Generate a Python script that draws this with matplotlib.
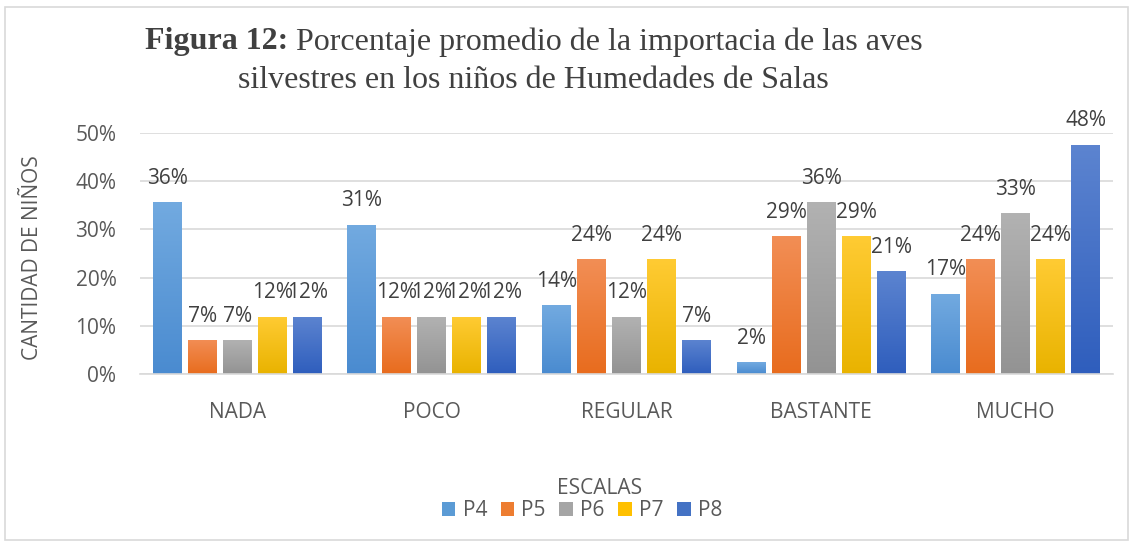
import numpy as np
import matplotlib
matplotlib.use("Agg")
import matplotlib.pyplot as plt
from matplotlib.colors import LinearSegmentedColormap
from matplotlib.patches import Rectangle

categories = ["NADA", "POCO", "REGULAR", "BASTANTE", "MUCHO"]
series_names = ["P4", "P5", "P6", "P7", "P8"]
P4 = [0.357, 0.310, 0.143, 0.024, 0.167]
P5 = [0.071, 0.119, 0.238, 0.286, 0.238]
P6 = [0.071, 0.119, 0.119, 0.357, 0.333]
P7 = [0.119, 0.119, 0.238, 0.286, 0.238]
P8 = [0.119, 0.119, 0.071, 0.214, 0.476]
series_values = [P4, P5, P6, P7, P8]
yticks = [0, 0.1, 0.2, 0.3, 0.4, 0.5]
ytick_labels = ["0%", "10%", "20%", "30%", "40%", "50%"]

top_colors = ["#72aae0", "#f28e55", "#b2b2b2", "#ffcb33", "#5c84d0"]
bot_colors = ["#4a8bd0", "#e86c1e", "#939393", "#e9b300", "#2f5ebd"]
legend_colors = ["#5b9bd5", "#ed7d31", "#a5a5a5", "#ffc000", "#4472c4"]

txt = "#595959"
font = "Open Sans"
fs = 15

fig = plt.figure(figsize=(11.33, 5.46), dpi=100)
ax = fig.add_axes([140/1133, 1-374/546, 973/1133, (374-133)/546])

x = np.arange(len(categories))
slot = 35/194.6
width = 29/194.6
grad = np.linspace(0, 1, 100).reshape(-1, 1)
for i, (name, vals) in enumerate(zip(series_names, series_values)):
    pos = x + (i - 2) * slot
    bars = ax.bar(pos, vals, width, color=legend_colors[i], label=name, zorder=2)
    cmap = LinearSegmentedColormap.from_list("g%d" % i, [bot_colors[i], top_colors[i]])
    for b, v in zip(bars, vals):
        b.set_facecolor("none")
        b.set_edgecolor("none")
        im = ax.imshow(grad, cmap=cmap, aspect="auto", origin="lower",
                       extent=[b.get_x(), b.get_x() + b.get_width(), 0, v], zorder=2)
        im.set_clip_path(b)
        ax.annotate(f"{round(v*100):d}%", (b.get_x() + b.get_width()/2, v),
                    xytext=(0, 9.5), textcoords="offset points", ha="center", va="bottom",
                    fontsize=fs, color="#404040", family=font, zorder=3)

ax.set_xlim(-0.5, 4.5)
ax.set_ylim(0, 0.5)
ax.set_yticks(yticks)
ax.set_yticklabels(ytick_labels)
ax.set_xticks(x)
ax.set_xticklabels(categories)
ax.tick_params(axis="both", length=0, labelsize=fs, labelcolor=txt)
ax.tick_params(axis="y", pad=17)
ax.tick_params(axis="x", pad=20)
for lab in ax.get_xticklabels() + ax.get_yticklabels():
    lab.set_family(font)
ax.grid(axis="y", color="#d9d9d9", linewidth=1.2, zorder=0)
ax.set_axisbelow(True)
for s in ["top", "right", "left"]:
    ax.spines[s].set_visible(False)
ax.spines["bottom"].set_color("#d9d9d9")
ax.spines["bottom"].set_linewidth(1.2)

fig.text(33/1133, 1-258/546, "CANTIDAD DE NIÑOS", rotation=90, fontsize=fs, color=txt,
         family=font, ha="center", va="center")

# Title
fig.canvas.draw()
r = fig.canvas.get_renderer()
tfs = 23
t1 = fig.text(0, 1-42/546, "Figura 12:", fontsize=tfs, fontweight="bold", family="Liberation Serif",
              color="#404040", va="center", ha="left")
t2 = fig.text(0, 1-42/546, " Porcentaje promedio de la importacia de las aves", fontsize=tfs,
              family="Liberation Serif", color="#404040", va="center", ha="left")
w1 = t1.get_window_extent(r).width
w2 = t2.get_window_extent(r).width
start = 534 - (w1 + w2) / 2
t1.set_x(start/1133)
t2.set_x((start + w1)/1133)
fig.text(533/1133, 1-80/546, "silvestres en los niños de Humedades de Salas", fontsize=tfs,
         family="Liberation Serif", color="#404040", va="center", ha="center")

fig.text(600/1133, 1-488/546, "ESCALAS", fontsize=fs, color=txt, family=font, ha="center", va="center")
leg = fig.legend(loc="center", bbox_to_anchor=(582/1133, 1-511/546), ncol=5, frameon=False,
                 handlelength=0.65, handleheight=0.65, handletextpad=0.35,
                 columnspacing=0.65, prop={"family": font, "size": fs})
for h, c in zip(leg.legend_handles, legend_colors):
    h.set_facecolor(c)
for t in leg.get_texts():
    t.set_color(txt)

fig.patches.append(Rectangle((5/1133, 1-540/546), 1123/1133, 533/546, transform=fig.transFigure,
                             fill=False, edgecolor="#d9d9d9", linewidth=1.2))

fig.savefig("out.png", dpi=100)
